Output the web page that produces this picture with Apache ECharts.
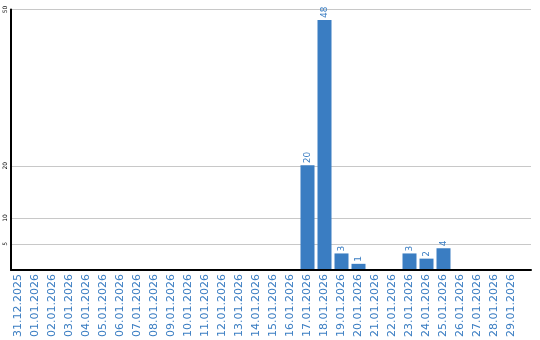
<!DOCTYPE html>
<html><head><meta charset="utf-8">
<style>html,body{margin:0;padding:0;background:#fff}#c{width:540px;height:340px}</style>
<script src="https://cdn.jsdelivr.net/npm/echarts@6/dist/echarts.min.js"></script>
</head><body><div id="c"></div>
<script>
const categories = ['31.12.2025','01.01.2026','02.01.2026','03.01.2026','04.01.2026','05.01.2026','06.01.2026','07.01.2026','08.01.2026','09.01.2026','10.01.2026','11.01.2026','12.01.2026','13.01.2026','14.01.2026','15.01.2026','16.01.2026','17.01.2026','18.01.2026','19.01.2026','20.01.2026','21.01.2026','22.01.2026','23.01.2026','24.01.2026','25.01.2026','26.01.2026','27.01.2026','28.01.2026','29.01.2026'];
const values = [0,0,0,0,0,0,0,0,0,0,0,0,0,0,0,0,0,20,48,3,1,0,0,3,2,4,0,0,0,0];
const yTicks = [5,10,20,50];

const BLUE = '#3a7dc2';
const chart = echarts.init(document.getElementById('c'), null, {renderer:'canvas'});
chart.setOption({
  animation:false,
  grid:[
    {left:10, width:510, top:9.5, bottom:70},
    {left:11, right:9, top:9.5, bottom:70}
  ],
  xAxis:[
    {type:'category', gridIndex:0, data:categories,
     axisLine:{show:false}, axisTick:{show:false},
     axisLabel:{rotate:90, color:BLUE, fontFamily:'DejaVu Sans', fontSize:11, margin:5, interval:0}},
    {type:'value', gridIndex:1, min:0, max:1,
     axisLine:{show:true, lineStyle:{color:'#000', width:2}},
     axisTick:{show:false}, axisLabel:{show:false}, splitLine:{show:false}}
  ],
  yAxis:[
    {type:'value', gridIndex:0, min:0, max:50, show:false},
    {type:'value', gridIndex:1, min:0, max:50,
     axisLine:{show:true, lineStyle:{color:'#000', width:2}},
     axisTick:{show:false, customValues:yTicks},
     axisLabel:{customValues:yTicks, rotate:90, color:'#000', fontFamily:'DejaVu Sans', fontSize:6, margin:3},
     splitLine:{show:true, lineStyle:{color:'#c8c8c8', width:1}}}
  ],
  series:[{
    type:'bar', xAxisIndex:0, yAxisIndex:0, data:values, barWidth:14,
    itemStyle:{color:BLUE},
    label:{show:true, position:'top', rotate:90, align:'left', verticalAlign:'middle', distance:2,
      color:BLUE, fontFamily:'DejaVu Sans', fontSize:9,
      formatter:p=>p.value===0?'':String(p.value)}
  }]
});
</script></body></html>
